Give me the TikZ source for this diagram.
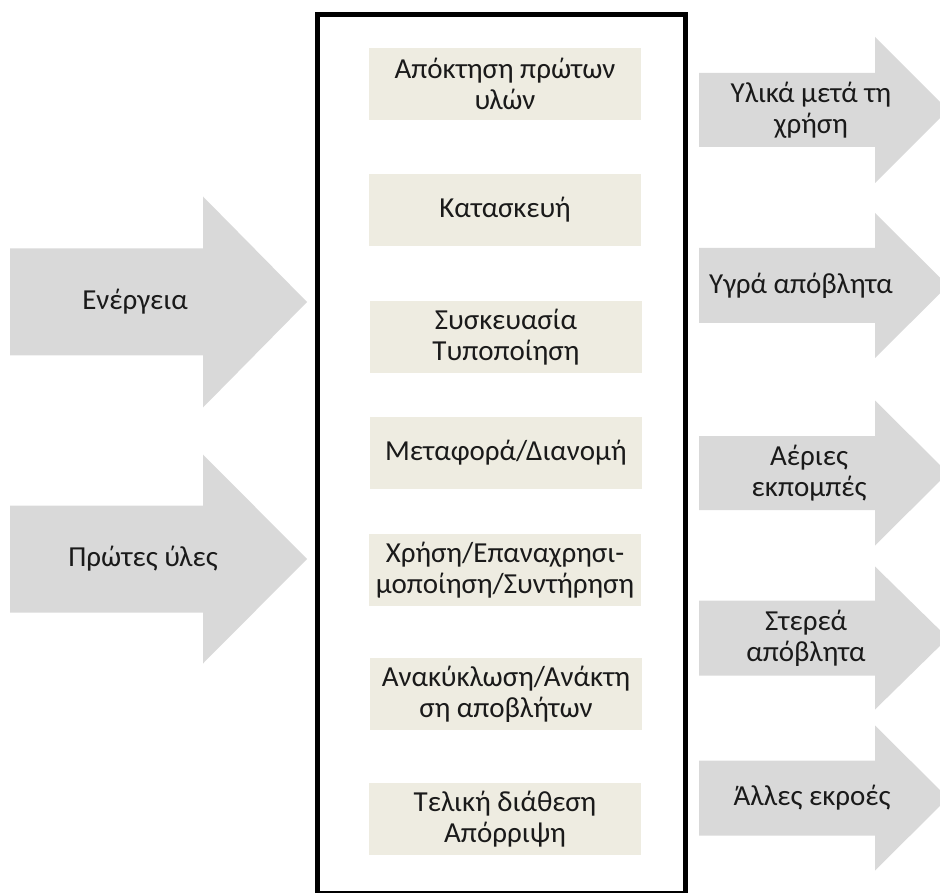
\documentclass[tikz,border=0pt]{standalone}
\usepackage{fontspec}
\setmainfont{Carlito}
\usepackage{xcolor}
\usepackage{tikz}
\definecolor{arrowgray}{HTML}{D9D9D9}
\definecolor{stagefill}{HTML}{EEECE1}
\definecolor{labeltext}{HTML}{1A1A1A}

\tikzset{
  stagebox/.style={fill=stagefill, minimum width=272pt, minimum height=72pt,
    inner sep=0pt, align=center, text=labeltext, font=\fontsize{29}{31}\selectfont},
  flowlabel/.style={align=center, text=labeltext, font=\fontsize{29}{31}\selectfont}
}
% block arrow: start x, centre y, body half height, head x, head half height, tip x
\newcommand{\flowarrow}[6]{%
  \fill[arrowgray] (#1,#2-#3) -- (#4,#2-#3) -- (#4,#2-#5) -- (#6,#2)
    -- (#4,#2+#5) -- (#4,#2+#3) -- (#1,#2+#3) -- cycle;}

\begin{document}
\begin{tikzpicture}[x=1pt,y=-1pt]
  \useasboundingbox (0,0) rectangle (940,893);
  \clip (0,0) rectangle (940,893);

  % inputs
  \flowarrow{10}{302}{53.5}{203}{105.5}{307}
  \flowarrow{10}{559}{53.5}{203}{104.5}{307}
  \node[flowlabel] (energy) at (135,302) {Ενέργεια};
  \node[flowlabel] (rawmat) at (143,559) {Πρώτες ύλες};

  % life cycle stages
  \draw[line width=5pt] (317.5,15) rectangle (685,893);
  \node[stagebox] (stage1) at (505,84) {Απόκτηση πρώτων\\υλών};
  \node[stagebox] (stage2) at (505,210) {Κατασκευή};
  \node[stagebox] (stage3) at (506,337) {Συσκευασία\\Τυποποίηση};
  \node[stagebox] (stage4) at (506,453) {Μεταφορά/Διανομή};
  \node[stagebox] (stage5) at (505,570) {Χρήση/Επαναχρησι-\\μοποίηση/Συντήρηση};
  \node[stagebox] (stage6) at (506,694) {Ανακύκλωση/Ανάκτη\\ση αποβλήτων};
  \node[stagebox] (stage7) at (505,819) {Τελική διάθεση\\Απόρριψη};

  % outputs
  \flowarrow{699}{110}{37}{875}{73}{948}
  \flowarrow{699}{285.5}{37.5}{875}{72.5}{948}
  \flowarrow{699}{473}{37}{875}{72.5}{948}
  \flowarrow{699}{638}{37.5}{875}{71.5}{948}
  \flowarrow{699}{798}{37.5}{875}{72.5}{948}
  \node[flowlabel] (afteruse) at (811,110) {Υλικά μετά τη\\χρήση};
  \node[flowlabel] (liquid) at (801,285.5) {Υγρά απόβλητα};
  \node[flowlabel] (gaseous) at (809,473) {Αέριες\\εκπομπές};
  \node[flowlabel] (solid) at (806,638) {Στερεά\\απόβλητα};
  \node[flowlabel] (other) at (812,798) {Άλλες εκροές};
\end{tikzpicture}
\end{document}
